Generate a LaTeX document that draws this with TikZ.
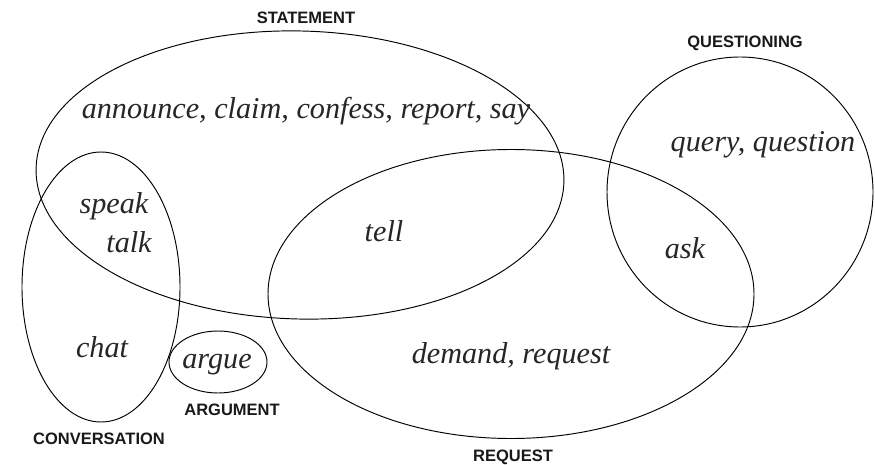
\documentclass[tikz,border=0pt]{standalone}
\usepackage{fontspec}
\setmainfont{Liberation Serif}
\newfontfamily\labfont{Liberation Sans}
\begin{document}
\begin{tikzpicture}[x=1pt,y=1pt,
  setline/.style={draw=black, line width=0.95pt},
  word/.style={font=\fontsize{30.2}{32}\selectfont\itshape, text=black!85, anchor=base, inner sep=0pt},
  setlabel/.style={font=\labfont\bfseries\fontsize{16.5}{18}\selectfont, text=black!90, anchor=base, inner sep=0pt}]
\useasboundingbox (0,-465) rectangle (875,0);
% set centres
\coordinate (cS) at (300,-175);
\coordinate (cC) at (101,-287);
\coordinate (cA) at (218,-362);
\coordinate (cR) at (511,-294);
\coordinate (cQ) at (740,-192);
% sets
\draw[setline] (cS) ellipse [x radius=264, y radius=144, rotate=-1.5];
\draw[setline] (cC) ellipse [x radius=79, y radius=135];
\draw[setline] (cA) ellipse [x radius=49, y radius=31];
\draw[setline] (cR) ellipse [x radius=243, y radius=144.5];
\draw[setline] (cQ) ellipse [x radius=133, y radius=135];
% set labels
\node[setlabel] (lS) at (306,-24) {STATEMENT};
\node[setlabel] (lQ) at (745,-48) {QUESTIONING};
\node[setlabel] (lA) at (232,-415) {ARGUMENT};
\node[setlabel] (lC) at (99,-444) {CONVERSATION};
\node[setlabel] (lR) at (513,-461) {REQUEST};
% words
\node[word] (wS) at (306,-119) {announce, claim, confess, report, say};
\node[word] (wQ) at (763,-152) {query, question};
\node[word] (wspeak) at (114,-213) {speak};
\node[word] (wtalk) at (129,-252) {talk};
\node[word] (wtell) at (384,-241) {tell};
\node[word] (wask) at (685,-258) {ask};
\node[word] (wchat) at (102,-357) {chat};
\node[word] (wargue) at (217,-368) {argue};
\node[word] (wR) at (511,-363) {demand, request};
\end{tikzpicture}
\end{document}
